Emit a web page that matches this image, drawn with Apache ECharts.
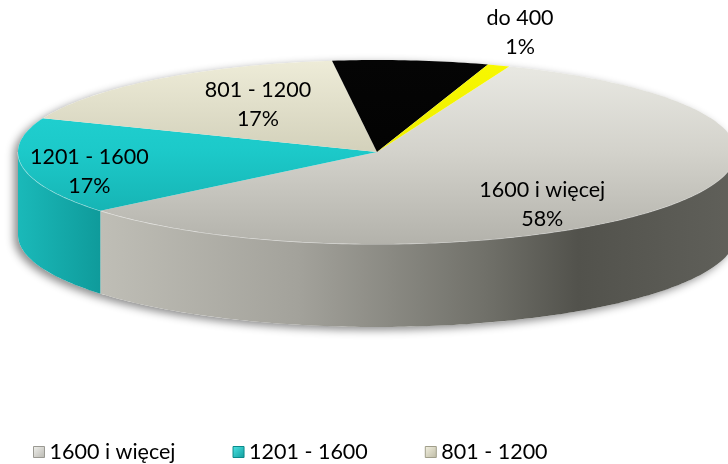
<!DOCTYPE html>
<html>
<head>
<meta charset="utf-8">
<script src="https://cdn.jsdelivr.net/npm/echarts@6/dist/echarts.min.js"></script>
<style>
  html, body { margin: 0; padding: 0; background: #ffffff; }
  #chart { width: 728px; height: 464px; }
</style>
</head>
<body>
<div id="chart"></div>
<script>
// Income brackets and their shares (%)
const categories = ['1600 i więcej', '1201 - 1600', '801 - 1200', '401 - 800', 'do 400'];
const shares = [58, 17, 17, 7, 1];
const legendItems = ['1600 i więcej', '1201 - 1600', '801 - 1200'];

// Tilted-disc geometry (px) and the angle where the first slice begins
const CX = 377, CY = 152, RX = 359, RY = 92, DEPTH = 83, START_DEG = -68.4;
const FONT = 'Lato';
const FONT_SIZE = 21.5;

// Per-slice look: top face (vertical shade), wall (horizontal shade), legend chip
const looks = [
  { top: [[0, '#eaeae4'], [0.5, '#d3d2cb'], [1, '#b3b2ab']],
    side: [[0, '#c6c5be'], [0.114, '#bfbeb6'], [0.39, '#a3a29b'], [0.657, '#6f6f68'], [0.78, '#52524c'], [1, '#60605a']],
    chip: ['#f2f2ee', '#b8b7b0'], edge: '#9a9992' },
  { top: [[0, '#24d8d8'], [0.5, '#1cc9c9'], [1, '#13a9a9']],
    side: [[0, '#1ab9b9'], [0.114, '#0f9b9b'], [1, '#0b7d7d']],
    chip: ['#4ee6e6', '#0f9b9b'], edge: '#0b8a8a' },
  { top: [[0, '#eeecd8'], [0.5, '#d3d1bb'], [1, '#bdbaa4']],
    side: [[0, '#c9c6b0'], [1, '#8c8a78']],
    chip: ['#f4f2e2', '#bdbaa4'], edge: '#a09e8a' },
  { top: [[0, '#050505'], [1, '#000000']],
    side: [[0, '#111111'], [1, '#000000']],
    chip: ['#333333', '#000000'], edge: '#000000' },
  { top: [[0, '#f8f800'], [1, '#e4e400']],
    side: [[0, '#d8d800'], [1, '#b0b000']],
    chip: ['#ffff40', '#d8d800'], edge: '#b0b000' }
];

// Where each slice's label sits: fraction of the radius along the mid-angle, plus a nudge
const labelSpots = [
  { r: 0.6, dx: -9, dy: 20 },
  { r: 0.8, dx: -4, dy: 8 },
  { r: 0.6, dx: 13, dy: -4 },
  null,
  { r: 1.25, dx: -9, dy: -11 }
];

const total = shares.reduce((a, b) => a + b, 0);
const startAngles = [];
{
  let acc = 0;
  shares.forEach(v => { startAngles.push(START_DEG + 360 * acc / total); acc += v; });
}

function arcPoints(a0, a1, dy) {
  const pts = [];
  const n = Math.max(2, Math.ceil(Math.abs(a1 - a0)));
  for (let i = 0; i <= n; i++) {
    const t = (a0 + (a1 - a0) * i / n) * Math.PI / 180;
    pts.push([CX + RX * Math.cos(t), CY + RY * Math.sin(t) + dy]);
  }
  return pts;
}

function vGrad(stops) {
  return new echarts.graphic.LinearGradient(0, CY - RY, 0, CY + RY, stops.map(s => ({ offset: s[0], color: s[1] })), true);
}
function hGrad(stops) {
  return new echarts.graphic.LinearGradient(CX - RX, 0, CX + RX, 0, stops.map(s => ({ offset: s[0], color: s[1] })), true);
}

function renderSlice(idx) {
  return function (params, api) {
    const value = api.value(0);
    const a0 = startAngles[idx];
    const a1 = a0 + 360 * value / total;
    const look = looks[idx];
    const children = [];

    // front wall: only the part of the rim that faces the viewer (0..180 deg)
    for (const k of [-360, 0, 360]) {
      const lo = Math.max(a0 + k, 0), hi = Math.min(a1 + k, 180);
      if (hi > lo) {
        const pts = arcPoints(lo, hi, 0).concat(arcPoints(hi, lo, DEPTH));
        children.push({ type: 'polygon', shape: { points: pts }, style: { fill: hGrad(look.side) } });
        children.push({ type: 'polyline', shape: { points: arcPoints(lo, hi, 0) },
          style: { fill: null, stroke: 'rgba(255,255,255,0.55)', lineWidth: 1.2 } });
      }
    }

    // top face
    const topPts = [[CX, CY]].concat(arcPoints(a0, a1, 0));
    children.push({ type: 'polygon', shape: { points: topPts }, style: { fill: vGrad(look.top) } });

    // label
    const spot = labelSpots[idx];
    if (spot) {
      const mid = (a0 + a1) / 2 * Math.PI / 180;
      children.push({
        type: 'text',
        x: CX + RX * spot.r * Math.cos(mid) + spot.dx,
        y: CY + RY * spot.r * Math.sin(mid) + spot.dy,
        style: {
          text: categories[idx] + '\n' + value + '%',
          fill: '#000000',
          font: FONT_SIZE + 'px ' + FONT,
          align: 'center',
          verticalAlign: 'middle',
          lineHeight: 29
        }
      });
    }
    return { type: 'group', children };
  };
}

// soft drop shadow under the whole disc
const silhouette = arcPoints(180, 360, 0).concat(arcPoints(0, 180, DEPTH));

const chart = echarts.init(document.getElementById('chart'), null, { renderer: 'canvas' });
chart.setOption({
  animation: false,
  backgroundColor: '#ffffff',
  graphic: [{
    type: 'polygon',
    z: 0,
    shape: { points: silhouette },
    style: { fill: '#ffffff', shadowBlur: 9, shadowColor: 'rgba(0,0,0,0.45)', shadowOffsetX: -4, shadowOffsetY: 3 }
  }],
  legend: {
    data: legendItems.map(n => {
      const i = categories.indexOf(n);
      return {
        name: n,
        itemStyle: {
          color: new echarts.graphic.LinearGradient(0, 0, 1, 1, [
            { offset: 0, color: looks[i].chip[0] }, { offset: 1, color: looks[i].chip[1] }
          ]),
          borderColor: looks[i].edge,
          borderWidth: 1
        }
      };
    }),
    icon: 'rect',
    left: 28,
    top: 436,
    itemWidth: 11,
    itemHeight: 11,
    itemGap: 57,
    selectedMode: false,
    textStyle: { fontFamily: FONT, fontSize: FONT_SIZE, color: '#000000' }
  },
  series: categories.map((name, i) => ({
    type: 'custom',
    name,
    coordinateSystem: 'none',
    z: 2,
    silent: true,
    itemStyle: { color: looks[i].chip[1] },
    data: [[shares[i]]],
    renderItem: renderSlice(i)
  }))
});
</script>
</body>
</html>
